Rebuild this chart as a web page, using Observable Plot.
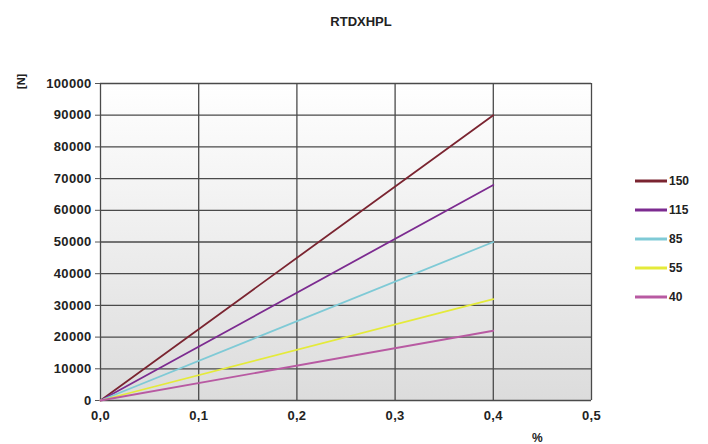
<!DOCTYPE html>
<html>
<head>
<meta charset="utf-8">
<script src="https://cdn.jsdelivr.net/npm/d3@7"></script>
<script src="https://cdn.jsdelivr.net/npm/@observablehq/plot@0.6"></script>
<style>
  html, body { margin: 0; padding: 0; background: #fff; }
  #wrap { position: relative; width: 708px; height: 444px; font-family: "Liberation Sans", Arial, sans-serif; font-weight: bold; color: #222; }
  #title { position: absolute; left: 0; width: 722px; top: 14px; text-align: center; font-size: 13px; }
  #ylab { position: absolute; left: 16px; top: 76px; font-size: 11px; transform: rotate(-90deg); transform-origin: 6px 7px; }
  #xlab { position: absolute; left: 532px; top: 431px; font-size: 12px; }
  #legend { position: absolute; left: 635px; top: 166px; font-size: 12px; }
  .item { height: 29px; display: flex; align-items: center; }
  .item svg { width: 32px; height: 6px; margin-right: 2px; }
</style>
</head>
<body>
<div id="wrap">
  <div id="chart"></div>
  <div id="title">RTDXHPL</div>
  <div id="ylab">[N]</div>
  <div id="xlab">%</div>
  <div id="legend"></div>
</div>
<script>
const seriesNames = ["150", "115", "85", "55", "40"];
const seriesColors = ["#7a2430", "#7c2b90", "#7fcad6", "#e4ea3a", "#b85aa2"];
const xValues = [0, 0.4];
const values150 = [0, 90000];
const values115 = [0, 68000];
const values85 = [0, 50000];
const values55 = [0, 32000];
const values40 = [0, 22000];
const xTicks = [0, 0.1, 0.2, 0.3, 0.4, 0.5];
const yTicks = [0, 10000, 20000, 30000, 40000, 50000, 60000, 70000, 80000, 90000, 100000];

const allValues = [values150, values115, values85, values55, values40];
const rows = [];
seriesNames.forEach((s, i) => {
  xValues.forEach((x, j) => rows.push({s, x, y: allValues[i][j]}));
});

const chart = Plot.plot({
  width: 708,
  height: 444,
  marginLeft: 100,
  marginRight: 117,
  marginTop: 83,
  marginBottom: 44,
  style: {fontFamily: "'Liberation Sans', Arial, sans-serif", fontSize: "13px", fontWeight: "bold", color: "#222", background: "transparent", letterSpacing: "0.3px"},
  x: {domain: [0, 0.5], ticks: xTicks, tickFormat: d => d.toFixed(1).replace(".", ","), tickSize: 0, tickPadding: 10, label: null},
  y: {domain: [0, 100000], ticks: yTicks, tickFormat: d => String(d), tickSize: 5, tickPadding: 4, label: null},
  color: {domain: seriesNames, range: seriesColors},
  marks: [
    Plot.frame({fill: "url(#bgGrad)", stroke: "none"}),
    Plot.gridX(xTicks, {stroke: "#4a4a4a", strokeOpacity: 1, strokeWidth: 1.3}),
    Plot.gridY(yTicks, {stroke: "#4a4a4a", strokeOpacity: 1, strokeWidth: 1.3}),
    Plot.axisX({ticks: xTicks, tickFormat: d => d.toFixed(1).replace(".", ","), tickSize: 0, tickPadding: 10, label: null}),
    Plot.axisY({ticks: yTicks, tickFormat: d => String(d), tickSize: 5, tickPadding: 4, label: null, stroke: "#555"}),
    Plot.line(rows, {x: "x", y: "y", z: "s", stroke: "s", strokeWidth: 1.8})
  ]
});

const svg = d3.select(chart);
const defs = svg.insert("defs", ":first-child");
const grad = defs.append("linearGradient").attr("id", "bgGrad").attr("x1", 0).attr("y1", 0).attr("x2", 0).attr("y2", 1);
grad.append("stop").attr("offset", "0%").attr("stop-color", "#ffffff");
grad.append("stop").attr("offset", "100%").attr("stop-color", "#dcdcdc");
document.getElementById("chart").appendChild(chart);

const legend = d3.select("#legend");
seriesNames.forEach((s, i) => {
  const item = legend.append("div").attr("class", "item");
  const sv = item.append("svg").attr("viewBox", "0 0 32 6");
  sv.append("line").attr("x1", 0).attr("x2", 32).attr("y1", 3).attr("y2", 3)
    .attr("stroke", seriesColors[i]).attr("stroke-width", 3);
  item.append("span").text(s);
});
</script>
</body>
</html>
